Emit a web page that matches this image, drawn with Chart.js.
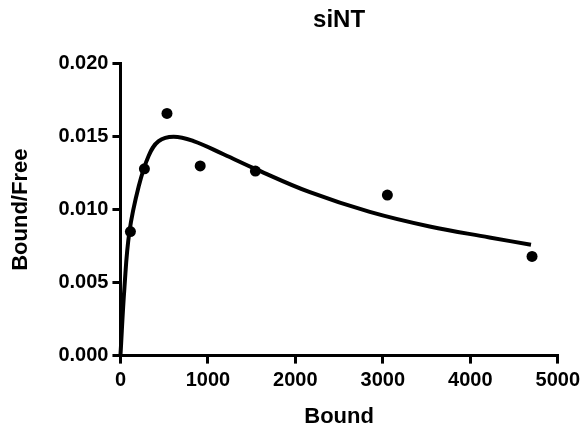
<!DOCTYPE html>
<html>
<head>
<meta charset="utf-8">
<script src="https://cdn.jsdelivr.net/npm/chart.js@4/dist/chart.umd.min.js"></script>
<style>
  html, body { margin: 0; padding: 0; background: #fff; }
  #wrap { width: 585px; height: 430px; }
</style>
</head>
<body>
<div id="wrap"><canvas id="c" width="585" height="430"></canvas></div>
<script>
// Measured data points (Bound, Bound/Free)
const boundValues = [114, 274, 532, 912, 1543, 3052, 4706];
const ratioValues = [0.0085, 0.0128, 0.0166, 0.0130, 0.01265, 0.0110, 0.0068];

// Fitted curve
const curveBound = [0, 46, 103, 209, 323, 437, 608, 836, 1178, 1559, 2166, 2851, 3535, 4219, 4694];
const curveRatio = [0, 0.0047, 0.0085, 0.0116, 0.0137, 0.0147, 0.0150, 0.0147, 0.0138, 0.01275, 0.0112, 0.00985, 0.00885, 0.0081, 0.0076];

const xTicks = [0, 1000, 2000, 3000, 4000, 5000];
const yTicks = [0, 0.005, 0.010, 0.015, 0.020];

const FONT = '"Liberation Sans", Arial, Helvetica, sans-serif';

const pts = boundValues.map((b, i) => ({ x: b, y: ratioValues[i] }));
const curve = curveBound.map((b, i) => ({ x: b, y: curveRatio[i] }));

const axisCommon = {
  type: 'linear',
  grid: { display: true, drawOnChartArea: false, drawTicks: true, tickLength: 8, lineWidth: 3, color: '#000' },
  border: { display: true, width: 3, color: '#000' },
};

new Chart(document.getElementById('c'), {
  type: 'scatter',
  data: {
    datasets: [
      {
        label: 'fit',
        data: curve,
        showLine: true,
        borderColor: '#000',
        borderWidth: 4,
        pointRadius: 0,
        fill: false,
        tension: 0.4,
        clip: false
      },
      {
        label: 'siNT',
        data: pts,
        showLine: false,
        pointRadius: 5.5,
        pointBackgroundColor: '#000',
        pointBorderColor: '#000',
        pointBorderWidth: 0,
        clip: false
      }
    ]
  },
  options: {
    responsive: false,
    animation: false,
    devicePixelRatio: 1,
    layout: { padding: { left: 8, right: 8, top: 0, bottom: 0 } },
    plugins: {
      legend: { display: false },
      tooltip: { enabled: false },
      title: {
        display: true,
        text: 'siNT',
        fullSize: false,
        color: '#000',
        font: { family: FONT, size: 24, weight: 'bold' },
        padding: { top: 6, bottom: 29 }
      }
    },
    scales: {
      x: Object.assign({}, axisCommon, {
        min: 0, max: 5000,
        afterBuildTicks: (s) => { s.ticks = xTicks.map(v => ({ value: v })); },
        ticks: { color: '#000', font: { family: FONT, size: 20, weight: 'bold' }, padding: 5, maxRotation: 0,
                 callback: (v) => String(v) },
        title: { display: true, text: 'Bound', color: '#000', font: { family: FONT, size: 22, weight: 'bold' }, padding: { top: 6, bottom: 0 } }
      }),
      y: Object.assign({}, axisCommon, {
        min: 0, max: 0.02,
        afterBuildTicks: (s) => { s.ticks = yTicks.map(v => ({ value: v })); },
        ticks: { color: '#000', font: { family: FONT, size: 20, weight: 'bold' }, padding: 4,
                 callback: (v) => Number(v).toFixed(3) },
        title: { display: true, text: 'Bound/Free', color: '#000', font: { family: FONT, size: 22, weight: 'bold' }, padding: { top: 0, bottom: 20 } }
      })
    }
  }
});
</script>
</body>
</html>
